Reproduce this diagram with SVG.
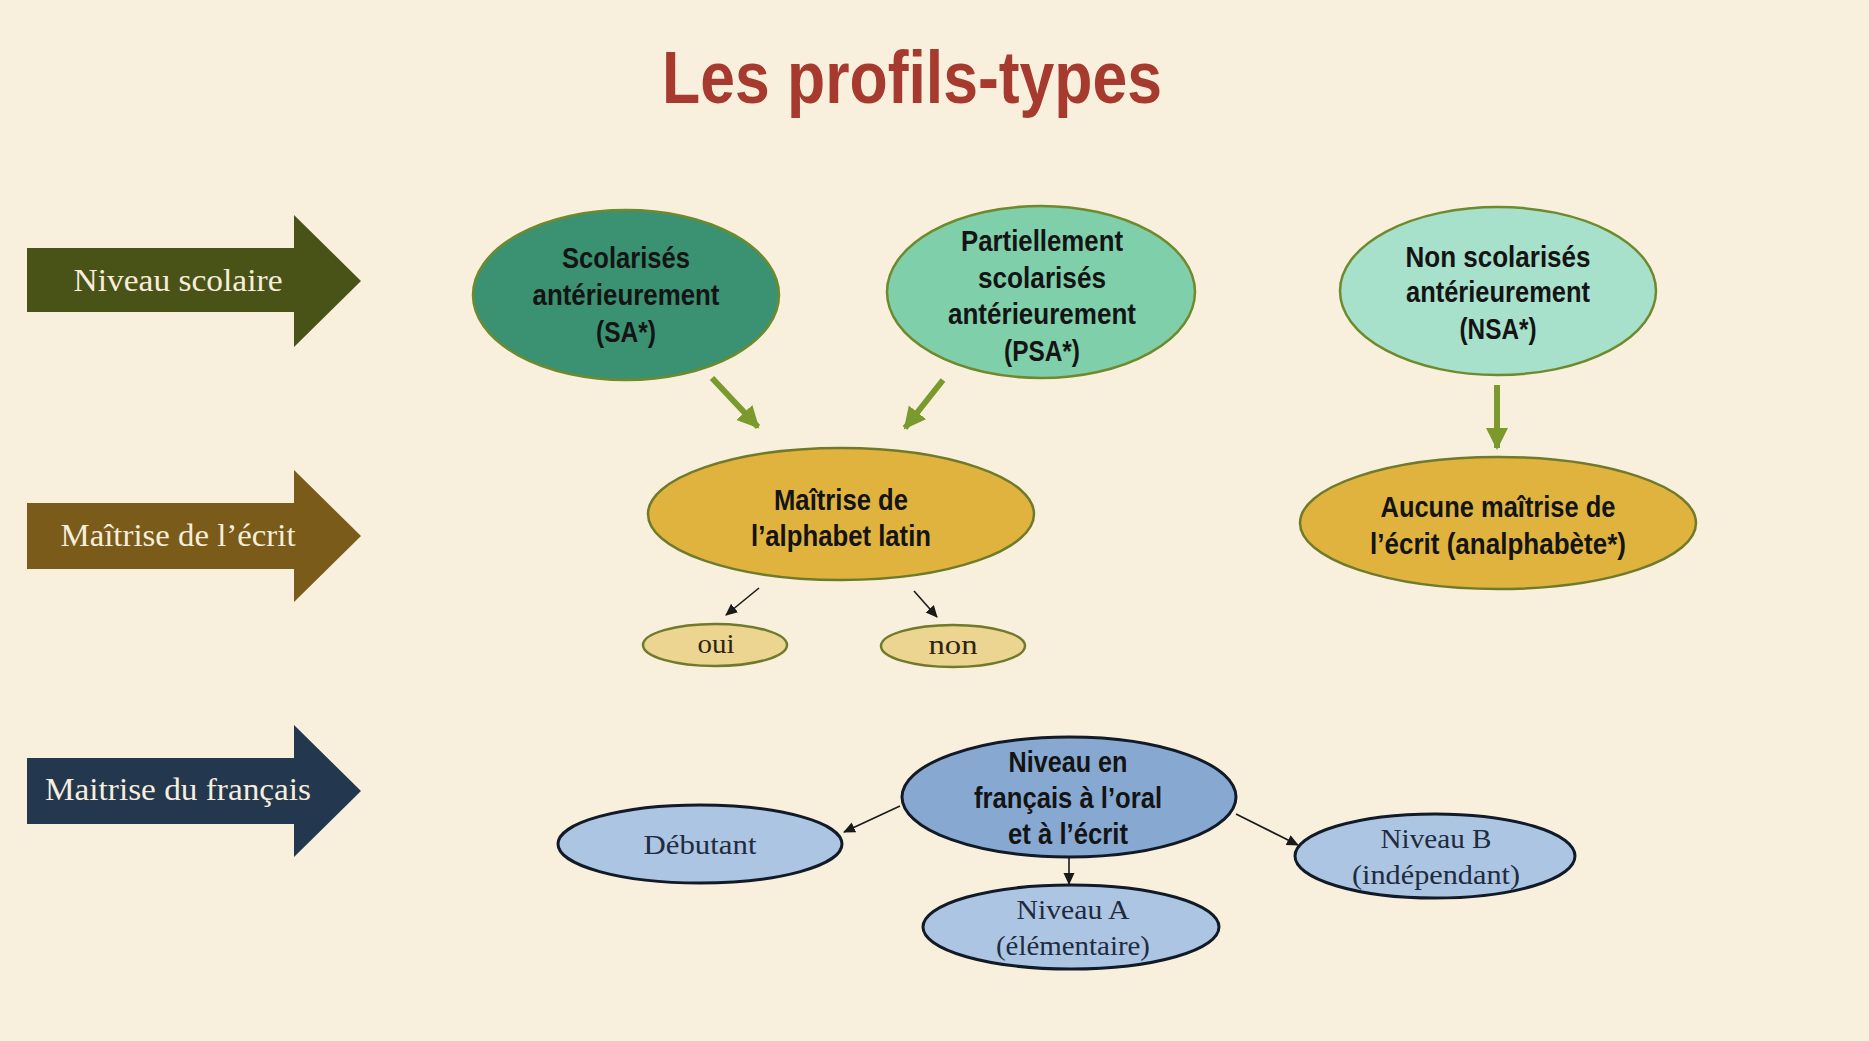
<svg xmlns="http://www.w3.org/2000/svg" width="1869" height="1041" viewBox="0 0 1869 1041">
<defs>
<style>
.bg{fill:#f8f0dd}
.title{font-family:"Liberation Sans Narrow","Liberation Sans",Arial,sans-serif;font-weight:bold;font-size:74px;fill:#a63a2f;text-anchor:middle}
.band{font-family:"Liberation Serif","DejaVu Serif",serif;font-size:31px;fill:#f6eedb;text-anchor:middle}
.bold{font-family:"Liberation Sans Narrow","Liberation Sans",Arial,sans-serif;font-weight:bold;font-size:30px;fill:#141414;text-anchor:middle}
.serif{font-family:"Liberation Serif","DejaVu Serif",serif;font-size:28px;text-anchor:middle}
.greenE{stroke:#6e8a2c;stroke-width:2.5}
.goldE{stroke:#6f7a2a;stroke-width:2.5}
.blueE{stroke:#111a26;stroke-width:3}
.garrow{stroke:#7b9a2e;stroke-width:6;fill:none}
.karrow{stroke:#1a1a1a;stroke-width:1.6;fill:none}
</style>
<marker id="gh" markerUnits="userSpaceOnUse" markerWidth="26" markerHeight="24" refX="20" refY="11" orient="auto">
<path d="M0,0 L22,11 L0,22 Z" fill="#7b9a2e"/>
</marker>
<marker id="kh" markerUnits="userSpaceOnUse" markerWidth="14" markerHeight="12" refX="11" refY="5.5" orient="auto">
<path d="M0,0 L12,5.5 L0,11 Z" fill="#1a1a1a"/>
</marker>
</defs>
<rect class="bg" x="0" y="0" width="1869" height="1041"/>
<text class="title" x="912" y="103" textLength="500" lengthAdjust="spacingAndGlyphs">Les profils-types</text>

<g id="band-niveau-scolaire">
<path d="M27,248 L294,248 L294,215 L361,281 L294,347 L294,312 L27,312 Z" fill="#4a5317"/>
<text class="band" x="178" y="291" textLength="209" lengthAdjust="spacingAndGlyphs">Niveau scolaire</text>
</g>
<g id="band-maitrise-ecrit">
<path d="M27,503 L294,503 L294,470 L361,536 L294,602 L294,569 L27,569 Z" fill="#7a5b19"/>
<text class="band" x="178" y="546" textLength="235" lengthAdjust="spacingAndGlyphs">Maîtrise de l’écrit</text>
</g>
<g id="band-maitrise-francais">
<path d="M27,758 L294,758 L294,725 L361,791 L294,857 L294,824 L27,824 Z" fill="#23374f"/>
<text class="band" x="178" y="800" textLength="266" lengthAdjust="spacingAndGlyphs">Maitrise du français</text>
</g>

<g id="connectors">
<line class="garrow" x1="712" y1="378" x2="758" y2="427" marker-end="url(#gh)"/>
<line class="garrow" x1="943" y1="380" x2="905" y2="428" marker-end="url(#gh)"/>
<line class="garrow" x1="1497" y1="385" x2="1497" y2="448" marker-end="url(#gh)"/>
<line class="karrow" x1="759" y1="588" x2="726" y2="615" marker-end="url(#kh)"/>
<line class="karrow" x1="914" y1="591" x2="937" y2="617" marker-end="url(#kh)"/>
<line class="karrow" x1="900" y1="806" x2="844" y2="832" marker-end="url(#kh)"/>
<line class="karrow" x1="1069" y1="857" x2="1069" y2="884" marker-end="url(#kh)"/>
<line class="karrow" x1="1236" y1="814" x2="1298" y2="845" marker-end="url(#kh)"/>
</g>

<g id="node-sa">
<ellipse class="greenE" cx="626" cy="295" rx="153" ry="85" fill="#3a9272"/>
<text class="bold" x="626" y="268" textLength="128" lengthAdjust="spacingAndGlyphs">Scolarisés</text>
<text class="bold" x="626" y="305" textLength="187" lengthAdjust="spacingAndGlyphs">antérieurement</text>
<text class="bold" x="626" y="342" textLength="60" lengthAdjust="spacingAndGlyphs">(SA*)</text>
</g>
<g id="node-psa">
<ellipse class="greenE" cx="1041" cy="292" rx="154" ry="86" fill="#7ecfaa"/>
<text class="bold" x="1042" y="251" textLength="162" lengthAdjust="spacingAndGlyphs">Partiellement</text>
<text class="bold" x="1042" y="288" textLength="128" lengthAdjust="spacingAndGlyphs">scolarisés</text>
<text class="bold" x="1042" y="324" textLength="188" lengthAdjust="spacingAndGlyphs">antérieurement</text>
<text class="bold" x="1042" y="361" textLength="76" lengthAdjust="spacingAndGlyphs">(PSA*)</text>
</g>
<g id="node-nsa">
<ellipse class="greenE" cx="1498" cy="291" rx="158" ry="84" fill="#a7e0cb"/>
<text class="bold" x="1498" y="267" textLength="185" lengthAdjust="spacingAndGlyphs">Non scolarisés</text>
<text class="bold" x="1498" y="302" textLength="184" lengthAdjust="spacingAndGlyphs">antérieurement</text>
<text class="bold" x="1498" y="339" textLength="77" lengthAdjust="spacingAndGlyphs">(NSA*)</text>
</g>
<g id="node-alphabet">
<ellipse class="goldE" cx="841" cy="514" rx="193" ry="66" fill="#e0b33f"/>
<text class="bold" x="841" y="510" textLength="134" lengthAdjust="spacingAndGlyphs">Maîtrise de</text>
<text class="bold" x="841" y="546" textLength="180" lengthAdjust="spacingAndGlyphs">l’alphabet latin</text>
</g>
<g id="node-aucune">
<ellipse class="goldE" cx="1498" cy="523" rx="198" ry="66" fill="#e0b33f"/>
<text class="bold" x="1498" y="517" textLength="235" lengthAdjust="spacingAndGlyphs">Aucune maîtrise de</text>
<text class="bold" x="1498" y="554" textLength="256" lengthAdjust="spacingAndGlyphs">l’écrit (analphabète*)</text>
</g>
<g id="node-oui">
<ellipse class="goldE" cx="715" cy="645" rx="72" ry="21" fill="#ecd491"/>
<text class="serif" x="716" y="653" fill="#2e2412" textLength="37" lengthAdjust="spacingAndGlyphs">oui</text>
</g>
<g id="node-non">
<ellipse class="goldE" cx="953" cy="646" rx="72" ry="21" fill="#ecd491"/>
<text class="serif" x="953" y="654" fill="#2e2412" textLength="49" lengthAdjust="spacingAndGlyphs">non</text>
</g>
<g id="node-niveau-francais">
<ellipse class="blueE" cx="1069" cy="797" rx="167" ry="60" fill="#87a9d1"/>
<text class="bold" x="1068" y="772" textLength="119" lengthAdjust="spacingAndGlyphs">Niveau en</text>
<text class="bold" x="1068" y="808" textLength="188" lengthAdjust="spacingAndGlyphs">français à l’oral</text>
<text class="bold" x="1068" y="844" textLength="120" lengthAdjust="spacingAndGlyphs">et à l’écrit</text>
</g>
<g id="node-debutant">
<ellipse class="blueE" cx="700" cy="844" rx="142" ry="39" fill="#abc5e2"/>
<text class="serif" x="700" y="854" fill="#1f2b3e" textLength="113" lengthAdjust="spacingAndGlyphs">Débutant</text>
</g>
<g id="node-niveau-a">
<ellipse class="blueE" cx="1071" cy="927" rx="148" ry="42" fill="#abc5e2"/>
<text class="serif" x="1073" y="919" fill="#1f2b3e" textLength="113" lengthAdjust="spacingAndGlyphs">Niveau A</text>
<text class="serif" x="1073" y="955" fill="#1f2b3e" textLength="154" lengthAdjust="spacingAndGlyphs">(élémentaire)</text>
</g>
<g id="node-niveau-b">
<ellipse class="blueE" cx="1435" cy="856" rx="140" ry="42" fill="#abc5e2"/>
<text class="serif" x="1436" y="848" fill="#1f2b3e" textLength="111" lengthAdjust="spacingAndGlyphs">Niveau B</text>
<text class="serif" x="1436" y="884" fill="#1f2b3e" textLength="168" lengthAdjust="spacingAndGlyphs">(indépendant)</text>
</g>
</svg>
